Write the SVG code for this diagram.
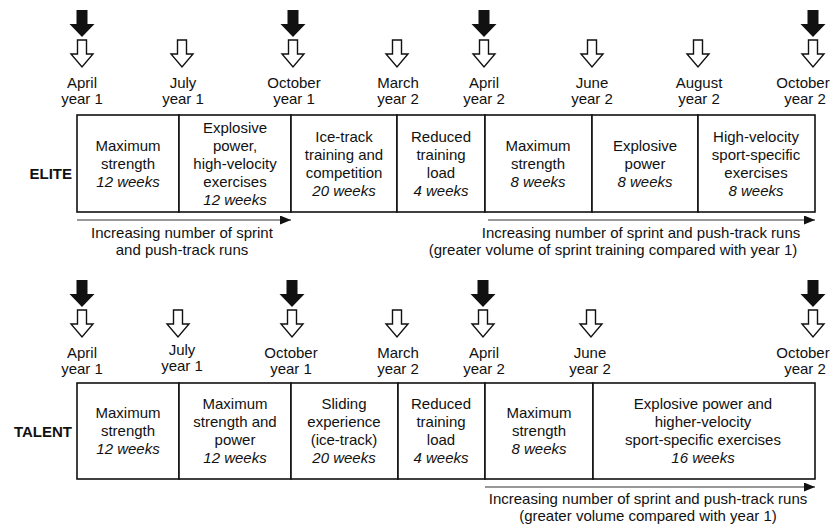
<svg xmlns="http://www.w3.org/2000/svg" xmlns:xlink="http://www.w3.org/1999/xlink" width="832" height="527" viewBox="0 0 832 527">
<style>
text{font-family:"Liberation Sans",Arial,sans-serif;font-size:15px;fill:#111;text-anchor:middle}
.w{font-style:italic}
.lbl{font-weight:bold;text-anchor:end}
.box{fill:#fff;stroke:#111;stroke-width:1.6}
.ln{stroke:#333;stroke-width:1.2;fill:none}
.hol{fill:#fff;stroke:#111;stroke-width:1.4;stroke-linejoin:miter}
.blk{fill:#111}
</style>
<defs>
<path id="ba" class="blk" d="M-5.5,0 H5.5 V14 H12.5 L0,27 L-12.5,14 H-5.5 Z"/>
<path id="ha" class="hol" d="M-4.5,0 H4.5 V14 H11 L0,27 L-11,14 H-4.5 Z"/>
<marker id="ah" markerWidth="11" markerHeight="9" refX="11" refY="4.5" orient="auto" markerUnits="userSpaceOnUse">
<path d="M0,0 L11,4.5 L0,9 Z" fill="#111"/>
</marker>
</defs>
<rect width="832" height="527" fill="#fff"/>

<!-- ELITE month markers -->
<g id="elite-months">
<use xlink:href="#ba" x="82" y="10"/><use xlink:href="#ha" x="82" y="40"/>
<text x="82" y="88">April</text><text x="82" y="104">year 1</text>
<use xlink:href="#ha" x="182" y="40"/>
<text x="183" y="88">July</text><text x="183" y="104">year 1</text>
<use xlink:href="#ba" x="293" y="10"/><use xlink:href="#ha" x="293" y="40"/>
<text x="294" y="88">October</text><text x="294" y="104">year 1</text>
<use xlink:href="#ha" x="397" y="40"/>
<text x="398" y="88">March</text><text x="398" y="104">year 2</text>
<use xlink:href="#ba" x="484" y="10"/><use xlink:href="#ha" x="484" y="40"/>
<text x="484" y="88">April</text><text x="484" y="104">year 2</text>
<use xlink:href="#ha" x="592" y="40"/>
<text x="592" y="88">June</text><text x="592" y="104">year 2</text>
<use xlink:href="#ha" x="698" y="40"/>
<text x="699" y="88">August</text><text x="699" y="104">year 2</text>
<use xlink:href="#ba" x="813" y="10"/><use xlink:href="#ha" x="813" y="40"/>
<text x="803" y="88">October</text><text x="805" y="104">year 2</text>
</g>

<text class="lbl" x="72" y="179">ELITE</text>

<g id="elite-1"><rect class="box" x="77" y="115" width="102" height="97"/>
<text x="128" y="151">Maximum</text><text x="128" y="169">strength</text><text class="w" x="128" y="187">12 weeks</text></g>
<g id="elite-2"><rect class="box" x="179" y="115" width="112" height="97"/>
<text x="235" y="133">Explosive</text><text x="235" y="151">power,</text><text x="235" y="169">high-velocity</text><text x="235" y="187">exercises</text><text class="w" x="235" y="205">12 weeks</text></g>
<g id="elite-3"><rect class="box" x="291" y="115" width="106" height="97"/>
<text x="344" y="142">Ice-track</text><text x="344" y="160">training and</text><text x="344" y="178">competition</text><text class="w" x="344" y="196">20 weeks</text></g>
<g id="elite-4"><rect class="box" x="397" y="115" width="88" height="97"/>
<text x="441" y="142">Reduced</text><text x="441" y="160">training</text><text x="441" y="178">load</text><text class="w" x="441" y="196">4 weeks</text></g>
<g id="elite-5"><rect class="box" x="485" y="115" width="107" height="97"/>
<text x="538" y="151">Maximum</text><text x="538" y="169">strength</text><text class="w" x="538" y="187">8 weeks</text></g>
<g id="elite-6"><rect class="box" x="592" y="115" width="106" height="97"/>
<text x="645" y="151">Explosive</text><text x="645" y="169">power</text><text class="w" x="645" y="187">8 weeks</text></g>
<g id="elite-7"><rect class="box" x="698" y="115" width="117" height="97"/>
<text x="756" y="142">High-velocity</text><text x="756" y="160">sport-specific</text><text x="756" y="178">exercises</text><text class="w" x="756" y="196">8 weeks</text></g>

<!-- TALENT month markers -->
<g id="talent-months">
<use xlink:href="#ba" x="82" y="280"/><use xlink:href="#ha" x="82" y="310"/>
<text x="82" y="358">April</text><text x="82" y="374">year 1</text>
<use xlink:href="#ha" x="178" y="310"/>
<text x="182" y="355">July</text><text x="182" y="371">year 1</text>
<use xlink:href="#ba" x="292" y="280"/><use xlink:href="#ha" x="292" y="310"/>
<text x="291" y="358">October</text><text x="291" y="374">year 1</text>
<use xlink:href="#ha" x="397" y="310"/>
<text x="398" y="358">March</text><text x="398" y="374">year 2</text>
<use xlink:href="#ba" x="483" y="280"/><use xlink:href="#ha" x="483" y="310"/>
<text x="484" y="358">April</text><text x="484" y="374">year 2</text>
<use xlink:href="#ha" x="591" y="310"/>
<text x="590" y="358">June</text><text x="590" y="374">year 2</text>
<use xlink:href="#ba" x="813" y="280"/><use xlink:href="#ha" x="813" y="310"/>
<text x="803" y="358">October</text><text x="805" y="374">year 2</text>
</g>

<text class="lbl" x="72" y="437">TALENT</text>

<g id="talent-1"><rect class="box" x="77" y="383" width="102" height="96"/>
<text x="128" y="418">Maximum</text><text x="128" y="436">strength</text><text class="w" x="128" y="454">12 weeks</text></g>
<g id="talent-2"><rect class="box" x="179" y="383" width="112" height="96"/>
<text x="235" y="409">Maximum</text><text x="235" y="427">strength and</text><text x="235" y="445">power</text><text class="w" x="235" y="463">12 weeks</text></g>
<g id="talent-3"><rect class="box" x="291" y="383" width="107" height="96"/>
<text x="344" y="409">Sliding</text><text x="344" y="427">experience</text><text x="344" y="445">(ice-track)</text><text class="w" x="344" y="463">20 weeks</text></g>
<g id="talent-4"><rect class="box" x="398" y="383" width="87" height="96"/>
<text x="441" y="409">Reduced</text><text x="441" y="427">training</text><text x="441" y="445">load</text><text class="w" x="441" y="463">4 weeks</text></g>
<g id="talent-5"><rect class="box" x="485" y="383" width="108" height="96"/>
<text x="539" y="418">Maximum</text><text x="539" y="436">strength</text><text class="w" x="539" y="454">8 weeks</text></g>
<g id="talent-6"><rect class="box" x="593" y="383" width="222" height="96"/>
<text x="703" y="409">Explosive power and</text><text x="703" y="427">higher-velocity</text><text x="703" y="445">sport-specific exercises</text><text class="w" x="703" y="463">16 weeks</text></g>

<g id="connectors">
<line class="ln" x1="77" y1="220" x2="291" y2="220" marker-end="url(#ah)"/>
<line class="ln" x1="488" y1="220" x2="815" y2="220" marker-end="url(#ah)"/>
<line class="ln" x1="485" y1="487" x2="815" y2="487" marker-end="url(#ah)"/>
</g>

<g id="notes">
<text x="182" y="238">Increasing number of sprint</text>
<text x="182" y="255">and push-track runs</text>
<text x="641" y="238">Increasing number of sprint and push-track runs</text>
<text x="613" y="255">(greater volume of sprint training compared with year 1)</text>
<text x="648" y="504">Increasing number of sprint and push-track runs</text>
<text x="648" y="521">(greater volume compared with year 1)</text>
</g>
</svg>
